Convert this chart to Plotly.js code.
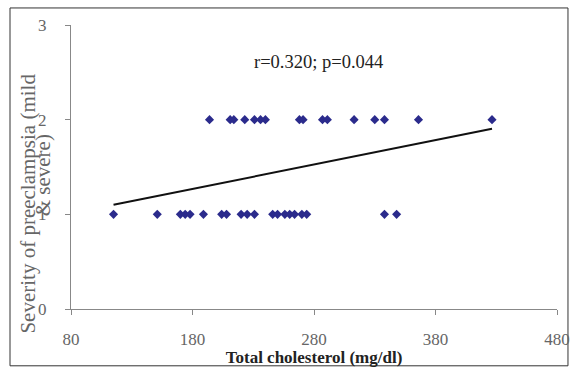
<!DOCTYPE html>
<html>
<head>
<meta charset="utf-8">
<script src="https://cdn.plot.ly/plotly-3.0.1.min.js"></script>
<style>html,body{margin:0;padding:0;background:#fff;}#chart{width:572px;height:367px;}</style>
</head>
<body>
<div id="chart"></div>
<script>
// Total cholesterol (mg/dl) for mild (1) and severe (2) preeclampsia
const mildCholesterol = [115, 151, 170, 174, 178, 189, 204, 208, 220, 225, 231, 246, 250, 256, 260, 264, 270, 274, 338, 348];
const severeCholesterol = [194, 211, 214, 223, 231, 236, 240, 268, 271, 287, 291, 313, 330, 338, 366, 426.5];
const mildLevel = 1;
const severeLevel = 2;
// Trendline: y = intercept + slope * x
const trendIntercept = 0.805;
const trendSlope = 0.002575;
const xTickVals = [80, 180, 280, 380, 480];
const yTickVals = [0, 1, 2, 3];
const statsLabel = 'r=0.320; p=0.044';
const yTitleLines = ['Severity of preeclampsia (mild', '& severe)'];
const xTitle = 'Total cholesterol (mg/dl)';

const allX = mildCholesterol.concat(severeCholesterol);
const allY = mildCholesterol.map(() => mildLevel).concat(severeCholesterol.map(() => severeLevel));
const xMin = Math.min(...allX), xMax = Math.max(...allX);
const trendX = [xMin, xMax];
const trendY = trendX.map(x => trendIntercept + trendSlope * x);

const serif = '"Liberation Serif", "Times New Roman", serif';

const data = [
  {
    x: allX, y: allY, type: 'scatter', mode: 'markers',
    marker: {symbol: 'diamond', size: 7, color: '#2b2b8c'},
    hoverinfo: 'x+y', showlegend: false
  },
  {
    x: trendX, y: trendY, type: 'scatter', mode: 'lines',
    line: {color: '#111', width: 2}, showlegend: false
  }
];

const layout = {
  width: 572, height: 367,
  margin: {l: 71, r: 15, t: 25, b: 58},
  paper_bgcolor: '#fff', plot_bgcolor: '#fff',
  font: {family: serif, size: 16, color: '#666'},
  xaxis: {
    range: [80, 480], tickvals: xTickVals, ticktext: xTickVals.map(String),
    showgrid: false, zeroline: false, showline: true, linecolor: '#888', linewidth: 1,
    ticks: 'outside', ticklen: 5, tickcolor: '#888', ticklabelstandoff: 10,
    tickfont: {family: serif, size: 17, color: '#666'},
    title: {text: xTitle, font: {family: serif, size: 17, color: '#222', weight: 'bold'}, standoff: 0}
  },
  yaxis: {
    range: [0, 3], tickvals: yTickVals, ticktext: yTickVals.map(String),
    showgrid: false, zeroline: false, showline: true, linecolor: '#888', linewidth: 1,
    ticks: 'outside', ticklen: 5, tickcolor: '#888', ticklabelstandoff: 15,
    tickfont: {family: serif, size: 17, color: '#666'}
  },
  annotations: [
    {text: yTitleLines[0], xref: 'paper', yref: 'paper',
     x: -0.088, y: 0.372, xanchor: 'center', yanchor: 'middle', textangle: -90, showarrow: false,
     font: {family: serif, size: 21, color: '#666'}},
    {text: yTitleLines[1], xref: 'paper', yref: 'paper',
     x: -0.058, y: 0.47, xanchor: 'center', yanchor: 'middle', textangle: -90, showarrow: false,
     font: {family: serif, size: 21, color: '#666'}},
    {text: statsLabel, xref: 'paper', yref: 'paper', x: 0.51, y: 0.87,
     xanchor: 'center', yanchor: 'middle', showarrow: false,
     font: {family: serif, size: 18.5, color: '#222'}}
  ],
  shapes: [
    {type: 'rect', xref: 'paper', yref: 'paper', x0: -0.1255, x1: 1.0226, y0: -0.2, y1: 1.06,
     line: {color: '#333', width: 1}, fillcolor: 'rgba(0,0,0,0)', layer: 'below'}
  ]
};

Plotly.newPlot('chart', data, layout, {staticPlot: true, displayModeBar: false});
</script>
</body>
</html>
